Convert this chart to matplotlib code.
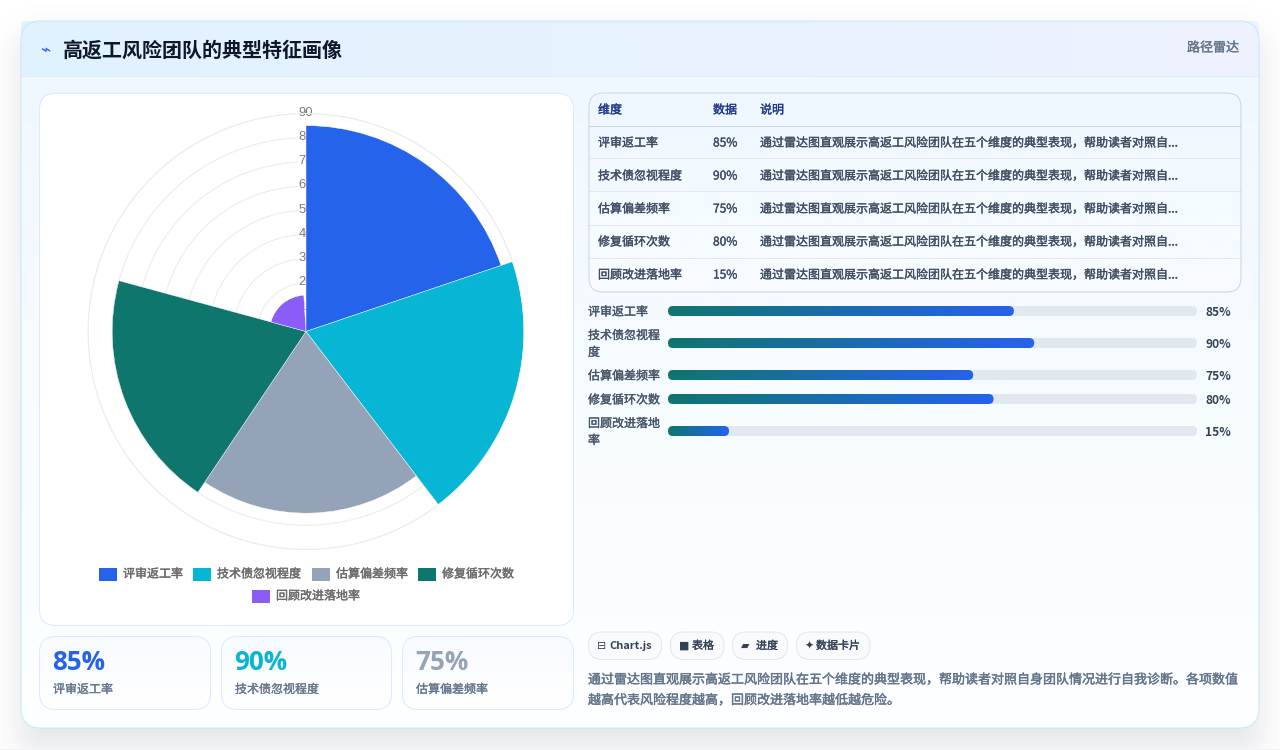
import numpy as np
import matplotlib
matplotlib.use("Agg")
import matplotlib.pyplot as plt
import matplotlib.patheffects as pe
from matplotlib.patches import FancyBboxPatch, Rectangle
from matplotlib.colors import LinearSegmentedColormap, to_rgb

plt.rcParams['font.family'] = ['Noto Sans CJK SC', 'DejaVu Sans']

# Dimensions and their scores
categories = ['评审返工率', '技术债忽视程度', '估算偏差频率', '修复循环次数', '回顾改进落地率']
values = [85, 90, 75, 80, 15]
colors = ['#2563eb', '#06b6d4', '#94a3b8', '#0f766e', '#8b5cf6']
radial_ticks = [10, 20, 30, 40, 50, 60, 70, 80, 90]

bar_labels = ['评审返工率', '技术债忽视程\n度', '估算偏差频率', '修复循环次数', '回顾改进落地\n率']
bar_rows = [311, 343, 375, 399, 431]

table_headers = ['维度', '数据', '说明']
table_note = '通过雷达图直观展示高返工风险团队在五个维度的典型表现，帮助读者对照自...'
summary_lines = ['通过雷达图直观展示高返工风险团队在五个维度的典型表现，帮助读者对照自身团队情况进行自我诊断。各项数值',
                 '越高代表风险程度越高，回顾改进落地率越低越危险。']
pills = [('⊟', 'Chart.js'), ('■', '表格'), ('▰', '进度'), ('✦', '数据卡片')]

W, H = 1280, 750
THIN = 0.72
fig = plt.figure(figsize=(W / 100, H / 100), dpi=100, facecolor='#ffffff')

# Page-level canvas measured in pixels
page = fig.add_axes([0, 0, 1, 1], zorder=0)
page.set_xlim(0, W)
page.set_ylim(H, 0)
page.axis('off')


def px(size):
    return size * 0.72


def label(x, y, s, size, color, weight='normal', ha='left', family=None, z=6, stroke=0.0):
    kw = {'family': family} if family else {}
    t = page.text(x, y + 1, s, fontsize=px(size), color=color, fontweight=weight,
                  ha=ha, va='center', zorder=z, **kw)
    if stroke:
        # A hairline outline gives the regular cut a medium weight
        t.set_path_effects([pe.withStroke(linewidth=stroke, foreground=color)])
    return t


def rounded(x0, y0, x1, y1, r, fc='none', ec='none', lw=THIN, z=2):
    p = FancyBboxPatch((x0 + r, y0 + r), x1 - x0 - 2 * r, y1 - y0 - 2 * r,
                       boxstyle=f'round,pad={r},rounding_size={r}',
                       fc=fc, ec=ec, lw=lw, zorder=z)
    page.add_patch(p)
    return p


def gradient(clip, extent, stops, horizontal=False, z=2):
    cmap = LinearSegmentedColormap.from_list('g', stops)
    ramp = np.linspace(0, 1, 256)
    ramp = ramp[None, :] if horizontal else ramp[:, None]
    im = page.imshow(ramp, extent=extent, cmap=cmap, vmin=0, vmax=1, aspect='auto',
                     origin='upper', zorder=z, interpolation='bilinear')
    im.set_clip_path(clip)
    page.set_xlim(0, W)
    page.set_ylim(H, 0)
    return im


# Soft drop shadow under the main card
xx, yy = np.meshgrid(np.arange(W) + .5, np.arange(H) + .5)
cx, cy, hw, hh, rad = 640, 384.5, 619, 353.5, 20
qx, qy = np.abs(xx - cx) - hw + rad, np.abs(yy - cy - 10) - hh + rad
dist = np.hypot(np.maximum(qx, 0), np.maximum(qy, 0)) + np.minimum(np.maximum(qx, qy), 0) - rad
shade = np.zeros((H, W, 4))
shade[..., :3] = to_rgb('#1e293b')
shade[..., 3] = 0.12 / (1 + np.exp(dist / 11))
page.imshow(shade, extent=(0, W, H, 0), aspect='auto', zorder=0.5)
page.set_xlim(0, W)
page.set_ylim(H, 0)
page.add_patch(Rectangle((0, 748.5), W, 1.5, fc='#eef2f7', ec='none', zorder=0.6))

# Main card and header band
card = rounded(21, 21, 1259, 728, 20, fc='#ffffff', z=1)
gradient(card, (21, 1259, 728, 76), ['#f0f8ff', '#f7fcff', '#fdffff'], z=1.1)
gradient(rounded(21, 21, 1259, 90, 6, z=1.05), (21, 1259, 76, 21), ['#e0f2fe', '#eef2ff'],
         horizontal=True, z=1.2)
page.plot([21, 1259], [75.5, 75.5], color='#dbeafe', lw=THIN, zorder=1.3)
rounded(21, 21, 1259, 728, 20, ec='#c4e8fb', z=1.4)
label(40, 49, '⌁', 17, '#2563eb', family='DejaVu Sans')
label(63, 49, '高返工风险团队的典型特征画像', 20, '#0f172a', 'bold')
label(1239, 47, '路径雷达', 13, '#64748b', ha='right', stroke=0.25)

# Chart panel
rounded(39.5, 93.5, 573.5, 625.5, 16, fc='#ffffff', ec='#dbeafe', z=2)

# Polar-area chart
left, right, top, bottom = 88, 524, 113.5, 549.5
polar = fig.add_axes([left / W, 1 - bottom / H, (right - left) / W, (bottom - top) / H],
                     projection='polar', zorder=3)
polar.patch.set_visible(False)
polar.set_theta_zero_location('N')
polar.set_theta_direction(-1)
polar.set_ylim(0, 90)
polar.set_axisbelow(True)
span = np.deg2rad(71.3)
polar.bar(np.arange(len(values)) * span, values, width=span, bottom=0, align='edge',
          color=colors, edgecolor='#ffffff', linewidth=0.3, zorder=2)
polar.set_xticks([])
polar.set_yticks(radial_ticks)
polar.set_yticklabels([])
polar.yaxis.grid(True, color='#ebebeb', lw=THIN)
polar.xaxis.grid(False)
polar.spines['polar'].set_color('#ebebeb')
polar.spines['polar'].set_linewidth(THIN)
for r in radial_ticks:
    polar.text(0, r + 0.3, str(r), ha='center', va='center', fontsize=px(13), color='#7a7a7a',
               family='Liberation Sans', zorder=1,
               bbox=dict(fc='#ffffff', ec='none', pad=0.3))

# Legend drawn as two centred rows
legend_pos = [(99, 574.5, 123), (193, 574.5, 217), (312, 574.5, 336), (418, 574.5, 442), (252, 596.5, 276)]
for (sx, sy, tx), name, col in zip(legend_pos, categories, colors):
    page.add_patch(Rectangle((sx, sy - 6.5), 18, 13, fc=col, ec='none', zorder=4))
    label(tx, sy - 1.5, name, 12, '#6b6b6b', stroke=0.3)

# Summary cards
for (x0, x1), name, val, col in zip([(39.5, 210.5), (221.5, 391.5), (402.5, 573.5)],
                                    categories, values, colors):
    c = rounded(x0, 636.5, x1, 709.5, 16, fc='#ffffff', z=2)
    gradient(c, (x0, x1, 709.5, 636.5), ['#f8fbff', '#ffffff'], z=2.1)
    rounded(x0, 636.5, x1, 709.5, 16, ec='#dbeafe', z=2.2)
    label(x0 + 13, 662, f'{val}%', 26, col, 'bold', family='Open Sans')
    label(x0 + 13.5, 688.5, name, 12, '#64748b', stroke=0.2)

# Data table
tb = rounded(589, 93, 1241, 292, 14, fc='#ffffff', z=2)
gradient(tb, (589, 1241, 292, 93), ['#eef6ff', '#f4fbff', '#f8fbff'], z=2.1)
rows_y = [142, 175, 208, 241, 274]
for x, h in zip([598, 713, 760], table_headers):
    label(x, 109, h, 12, '#1e3a8a', stroke=0.25)
page.plot([589, 1241], [125.5, 125.5], color='#cbd5e1', lw=THIN, zorder=3)
for line_y in [158, 191, 224.5, 257.5]:
    page.plot([589, 1241], [line_y, line_y], color='#e2e8f0', lw=THIN, zorder=3)
rounded(589, 93, 1241, 292, 14, ec='#cbd5e1', z=3.1)
for y, name, val in zip(rows_y, categories, values):
    label(598, y, name, 12, '#3f4d63', stroke=0.25)
    label(713, y, f'{val}%', 12, '#3f4d63', stroke=0.25)
    label(760, y, table_note, 12, '#3f4d63', stroke=0.25)

# Progress bars on their own value axis
track_left, track_right = 668, 1197
bars = fig.add_axes([track_left / W, 0, (track_right - track_left) / W, 1], zorder=4)
bars.patch.set_visible(False)
bars.axis('off')
bars.set_xlim(0, 130)
bars.set_ylim(H, 0)
unit = (track_right - track_left) / 130
fill_cmap = LinearSegmentedColormap.from_list('fill', ['#0f766e', '#2563eb'])
for y, val, name in zip(bar_rows, values, bar_labels):
    page.add_patch(FancyBboxPatch((track_left, y - 5), track_right - track_left, 10,
                                  boxstyle='round,pad=0,rounding_size=5', fc='#e2e8f0',
                                  ec='none', zorder=3))
    im = bars.imshow(np.linspace(0, 1, 256)[None, :], extent=(0, val, y + 5, y - 5), cmap=fill_cmap,
                     aspect='auto', zorder=2, interpolation='bilinear')
    # Rounded ends follow the filled length in pixels
    outline = FancyBboxPatch((track_left, y - 5), val * unit, 10,
                             boxstyle='round,pad=0,rounding_size=5', fc='none', ec='none')
    page.add_patch(outline)
    im.set_clip_path(outline)
    bars.set_xlim(0, 130)
    bars.set_ylim(H, 0)
    label(588, y, name, 12, '#475569', stroke=0.25).set_linespacing(1.38)
    label(1205, y, f'{val}%', 12, '#334155', 'bold')

# Technology pills
pill_x = [(588.5, 661.5), (670.5, 724), (732.5, 787.5), (796.5, 870)]
icon_x = [597, 679, 741, 805]
text_x = [609, 692, 756, 816]
for (x0, x1), ix, tx, (icon, text) in zip(pill_x, icon_x, text_x, pills):
    rounded(x0, 632, x1, 659.5, 13.5, fc='#f8fafc', ec='#e2e8f0', z=2)
    label(ix, 645, icon, 11, '#334155', family='DejaVu Sans')
    if text.isascii():
        label(tx, 645, text, 11, '#334155', 'bold')
    else:
        label(tx, 645, text, 11, '#334155', stroke=0.25)

for y, line in zip([679, 699.5], summary_lines):
    label(588, y, line, 13, '#64748b', stroke=0.3)

fig.savefig('out.png', dpi=100, facecolor=fig.get_facecolor())
